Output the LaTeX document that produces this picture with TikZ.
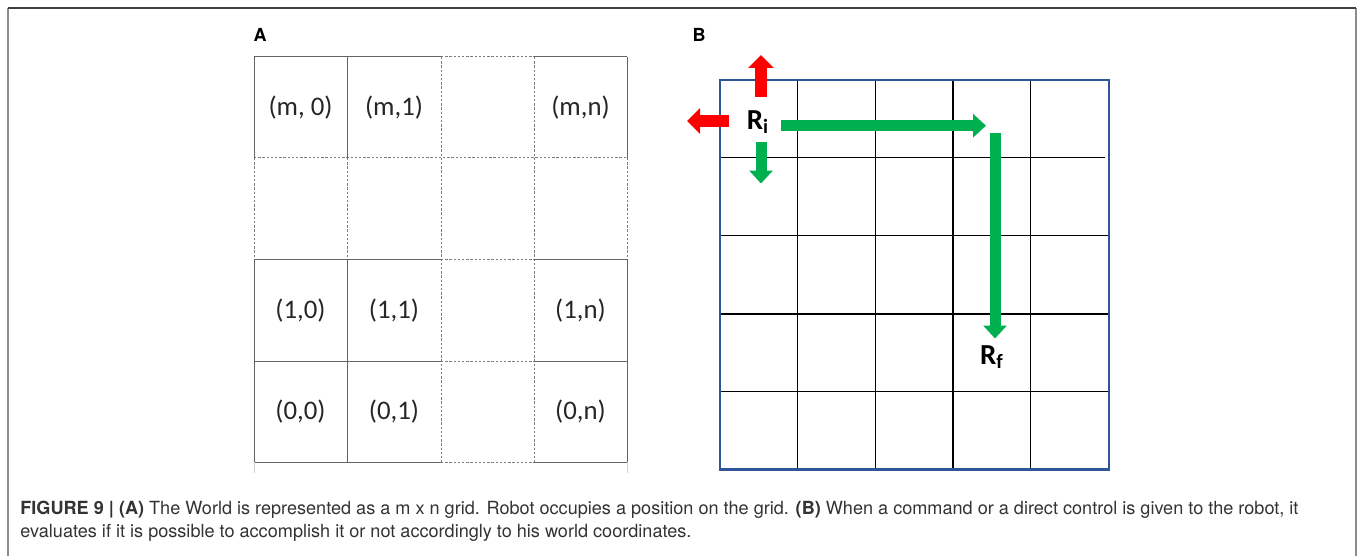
\documentclass[tikz,border=0pt]{standalone}
\usepackage{fontspec}
\setmainfont{TeX Gyre Heros}
\newfontfamily\calibri{Carlito}
\usepackage{xcolor}
\usetikzlibrary{arrows.meta}
\definecolor{gridgray}{RGB}{100,100,100}
\definecolor{dashgray}{RGB}{125,125,125}
\definecolor{worldblue}{RGB}{47,85,151}
\definecolor{moveok}{RGB}{0,176,80}
\definecolor{moveno}{RGB}{255,0,0}
\definecolor{captext}{RGB}{51,51,51}

\begin{document}
\begin{tikzpicture}[
  x=0.5pt, y=-0.5pt,
  cell/.style={draw=gridgray, line width=0.5pt},
  cellgap/.style={draw=dashgray, line width=0.5pt, dash pattern=on 1.2pt off 0.9pt},
  gridlabel/.style={font=\calibri\fontsize{13.4}{16}\selectfont, text=black!85, inner sep=0pt},
  robot/.style={font=\calibri\bfseries\fontsize{14.5}{17}\selectfont, inner sep=0pt},
  panel/.style={font=\bfseries\fontsize{9}{10}\selectfont, inner sep=0pt},
  okmove/.style={draw=moveok, line width=5.5pt, -{Triangle[length=6.5pt, width=11.5pt]}, moveok},
  nomove/.style={draw=moveno, line width=6.3pt, -{Triangle[length=6.5pt, width=12.5pt]}, moveno},
]
\useasboundingbox (0,0) rectangle (1360,556);
% page frame
\draw[gray!90, line width=0.75pt] (8,556) -- (8,8);
\draw[gray!90, line width=0.75pt] (1356,8) -- (1356,556);
\draw[black!75, line width=0.75pt] (8,8) -- (1356,8);

% panel A: m x n world
\node[panel] (labA) at (260,35) {A};
\draw[cellgap] (441,57) -- (534,57) (254,158) -- (627,158)
  (441,259) -- (534,259) (441,361) -- (534,361) (441,462) -- (534,462);
\draw[cellgap] (254,158) -- (254,259) (347,158) -- (347,259) (627,158) -- (627,259)
  (441,57) -- (441,462) (534,57) -- (534,462);
\draw[cell] (254,57) -- (441,57) (534,57) -- (627,57)
  (254,259) -- (441,259) (534,259) -- (627,259)
  (254,361) -- (441,361) (534,361) -- (627,361)
  (254,462) -- (441,462) (534,462) -- (627,462);
\draw[cell] (254,57) -- (254,158) (254,259) -- (254,462)
  (347,57) -- (347,158) (347,259) -- (347,462)
  (627,57) -- (627,158) (627,259) -- (627,462);
\draw[gray!35, line width=0.5pt] (254,462) -- (254,473) (627,462) -- (627,473);

\node[gridlabel] (m0) at (300.5,108) {(m, 0)};
\node[gridlabel] (m1) at (394,108) {(m,1)};
\node[gridlabel] (mn) at (580.5,108) {(m,n)};
\node[gridlabel] (c10) at (300.5,311) {(1,0)};
\node[gridlabel] (c11) at (394,311) {(1,1)};
\node[gridlabel] (c1n) at (580.5,311) {(1,n)};
\node[gridlabel] (c00) at (300.5,412) {(0,0)};
\node[gridlabel] (c01) at (394,412) {(0,1)};
\node[gridlabel] (c0n) at (580.5,412) {(0,n)};

% panel B: robot moves
\node[panel] (labB) at (699,35) {B};
\draw[black, line width=0.75pt] (797.7,80) -- (797.7,469) (875.3,80) -- (875.3,469)
  (953,80) -- (953,469) (1030.7,80) -- (1030.7,469);
\draw[black, line width=0.75pt] (720,157.7) -- (1105,157.7) (720,235.7) -- (1109,235.7)
  (720,314) -- (1109,314) (720,391.7) -- (1109,391.7);
\draw[worldblue, line width=1.2pt] (720,80) rectangle (1108.7,469.3);

\node[robot] (Ri) at (758,122) {R\textsubscript{i}};
\node[robot] (Rf) at (992,357) {R\textsubscript{f}};

\coordinate (upA) at (761,97);   \coordinate (upB) at (761,55);
\coordinate (leftA) at (729,121); \coordinate (leftB) at (687,121);
\coordinate (downA) at (761,142); \coordinate (downB) at (761,183.5);
\coordinate (pathA) at (780.5,125.7); \coordinate (turn) at (986,125.7);
\coordinate (pathC) at (995,133); \coordinate (pathD) at (995,338.5);

\draw[nomove] (upA) -- (upB);
\draw[nomove] (leftA) -- (leftB);
\draw[okmove] (downA) -- (downB);
\draw[okmove] (pathA) -- (turn);
\draw[okmove] (pathC) -- (pathD);

% caption
\node[anchor=base west, align=left, text=captext, inner sep=0pt,
      font=\fontsize{9.05}{11.5}\selectfont] (caption) at (20,537)
  {\textbf{FIGURE 9 | (A)} The World is represented as a m x n grid. Robot occupies a position on the grid. \textbf{(B)} When a command or a direct control is given to the robot, it\\
   evaluates if it is possible to accomplish it or not accordingly to his world coordinates.};
\end{tikzpicture}
\end{document}
